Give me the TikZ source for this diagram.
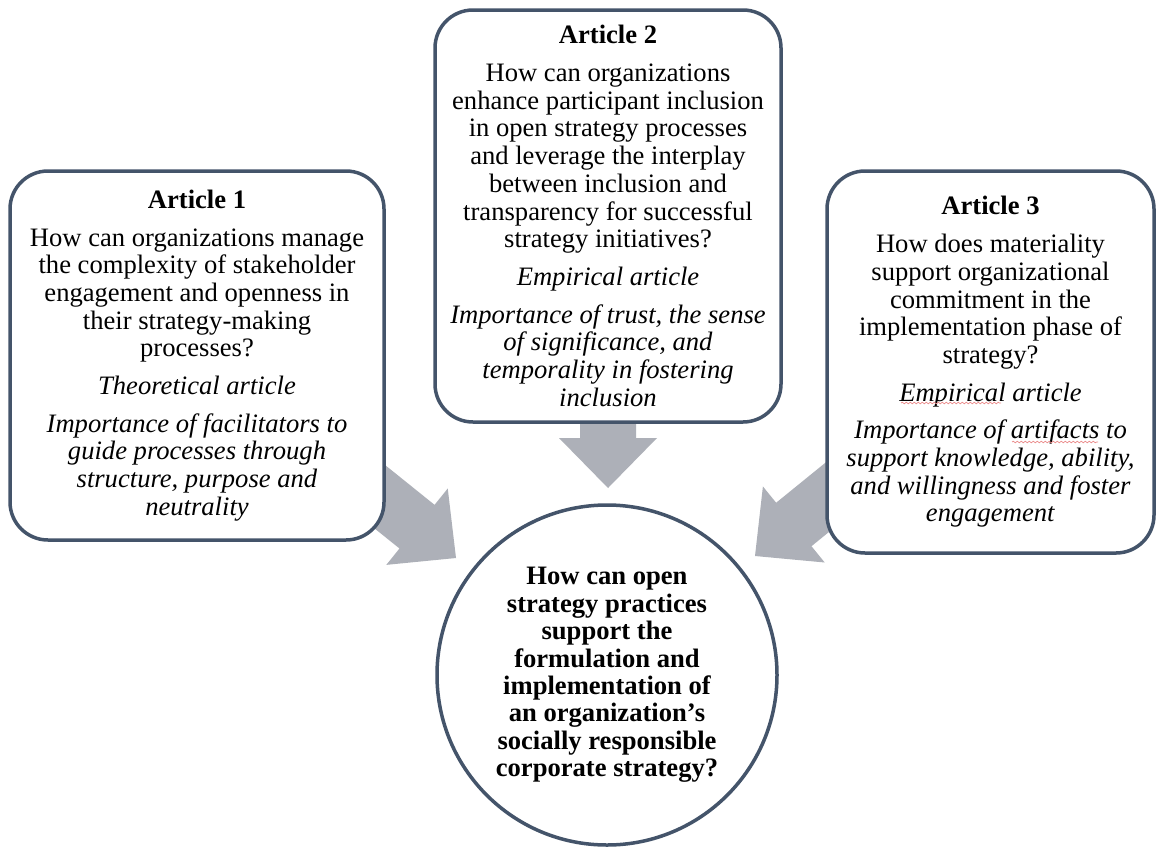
\documentclass[tikz,border=0pt]{standalone}
\usepackage{fontspec}
\setmainfont{Liberation Serif}
\usetikzlibrary{decorations.pathmorphing}
\definecolor{boxline}{RGB}{68,84,106}
\definecolor{arrowgray}{RGB}{173,176,184}
\definecolor{spellred}{RGB}{235,140,140}
\begin{document}
\begin{tikzpicture}[x=1pt,y=-1pt,
  box/.style={draw=boxline, line width=3.5pt, fill=white, rounded corners=38pt,
    align=center, inner sep=0pt, font=\fontsize{26.6}{27.7}\selectfont},
  hub/.style={circle, draw=boxline, line width=3.5pt, fill=white, minimum size=340pt,
    align=center, inner sep=0pt, font=\fontsize{26.6}{27.4}\selectfont\bfseries},
  spellline/.style={draw=spellred, line width=0.7pt,
    decorate, decoration={snake, amplitude=0.8pt, segment length=4pt}},
  blockarrow/.pic={\fill[arrowgray] (0,0) -- (-50,49) -- (-50,28) -- (-130,28)
    -- (-130,-28) -- (-50,-28) -- (-50,-49) -- cycle;}]
\fill[white] (0,0) rectangle (1158,846);
\useasboundingbox (0,0) rectangle (1158,846);

% arrow tips
\coordinate (t1) at (456,558);
\coordinate (t2) at (608,488);
\coordinate (t3) at (755,556);
\pic[rotate=-38.8] at (t1) {blockarrow};
\pic[rotate=-90] at (t2) {blockarrow};
\pic[rotate=-140.9] at (t3) {blockarrow};

\node[box, minimum width=374pt, minimum height=369pt] (a1) at (197,355.5) {%
\textbf{Article 1}\\[10pt]
How can organizations manage\\
the complexity of stakeholder\\
engagement and openness in\\
their strategy-making\\
processes?\\[10pt]
\textit{Theoretical article}\\[10pt]
\textit{Importance of facilitators to}\\
\textit{guide processes through}\\
\textit{structure, purpose and}\\
\textit{neutrality}};

\node[box, minimum width=346pt, minimum height=412pt] (a2) at (608,216) {%
\textbf{Article 2}\\[10pt]
How can organizations\\
enhance participant inclusion\\
in open strategy processes\\
and leverage the interplay\\
between inclusion and\\
transparency for successful\\
strategy initiatives?\\[10pt]
\textit{Empirical article}\\[10pt]
\textit{Importance of trust, the sense}\\
\textit{of significance, and}\\
\textit{temporality in fostering}\\
\textit{inclusion}};

\node[box, minimum width=327pt, minimum height=382pt] (a3) at (990.5,362) {%
\textbf{Article 3}\\[10pt]
How does materiality\\
support organizational\\
commitment in the\\
implementation phase of\\
strategy?\\[10pt]
\textit{Empirical article}\\[10pt]
\textit{Importance of artifacts to}\\
\textit{support knowledge, ability,}\\
\textit{and willingness and foster}\\
\textit{engagement}};

% spell-check marks
\coordinate (s1a) at (901,403);
\coordinate (s1b) at (1001,403);
\coordinate (s2a) at (1012,442);
\coordinate (s2b) at (1098,442);
\path[spellline] (s1a) -- (s1b);
\path[spellline] (s2a) -- (s2b);

\node[hub] (rq) at (607,675) {%
How can open\\
strategy practices\\
support the\\
formulation and\\
implementation of\\
an organization’s\\
socially responsible\\
corporate strategy?};
\end{tikzpicture}
\end{document}
